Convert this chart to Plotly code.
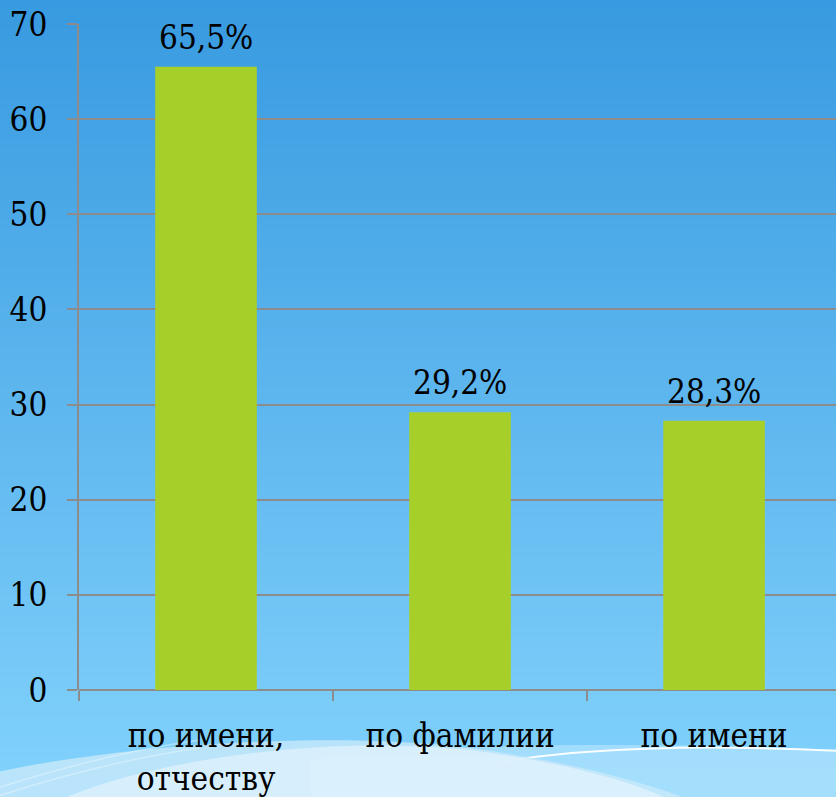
import plotly.graph_objects as go

categories = ["по имени,<br>отчеству", "по фамилии", "по имени"]
values = [65.5, 29.2, 28.3]
value_labels = ["65,5%", "29,2%", "28,3%"]
y_ticks = [0, 10, 20, 30, 40, 50, 60, 70]

W, H = 836, 797
L, R, T, B = 79, 0, 24, 107
FONT = "DejaVu Serif Condensed, DejaVu Serif, serif"
FSIZE = 33
GRID = "#8c8c8c"


def px_to_paper(x, y):
    return (x - L) / (W - L - R), (H - B - y) / (H - T - B)


def path(points):
    out = []
    for cmd, pts in points:
        coords = " ".join("%.4f,%.4f" % px_to_paper(x, y) for x, y in pts)
        out.append(cmd + " " + coords if pts else cmd)
    return " ".join(out)


fig = go.Figure()

fig.add_trace(go.Bar(
    x=categories,
    y=values,
    width=0.4,
    marker_color="#a7cf2a",
    marker_line_width=0,
    hoverinfo="skip",
))

for cat, val, lab in zip(categories, values, value_labels):
    fig.add_annotation(
        x=cat, y=val, text=lab, showarrow=False,
        yanchor="bottom", yshift=8,
        font={"family": FONT, "size": FSIZE, "color": "black"},
    )

# Background gradient stripes
shapes = []
top = (56, 154, 224)
bot = (130, 210, 252)
n = 80
for i in range(n):
    f = i / (n - 1)
    c = tuple(int(round(top[k] + (bot[k] - top[k]) * f)) for k in range(3))
    y0 = H * i / n - 1
    y1 = H * (i + 1) / n + 1
    x0p, y0p = px_to_paper(-2, y0)
    x1p, y1p = px_to_paper(W + 2, y1)
    shapes.append(dict(
        type="rect", xref="paper", yref="paper", layer="below",
        x0=x0p, x1=x1p, y0=y1p, y1=y0p,
        fillcolor="rgb(%d,%d,%d)" % c, line_width=0,
    ))

# Decorative swooshes at the bottom
shapes.append(dict(
    type="path", xref="paper", yref="paper", layer="below",
    path=path([("M", [(310, 760)]), ("C", [(450, 742), (650, 742), (840, 750)]),
               ("L", [(840, 800)]), ("L", [(310, 800)]), ("Z", [])]),
    fillcolor="rgba(175,225,253,0.75)", line_width=0,
))
shapes.append(dict(
    type="path", xref="paper", yref="paper", layer="below",
    path=path([("M", [(500, 762)]), ("C", [(580, 748), (700, 744), (840, 751)])]),
    line={"color": "rgba(255,255,255,0.95)", "width": 2},
))
shapes.append(dict(
    type="path", xref="paper", yref="paper", layer="below",
    path=path([("M", [(-2, 772)]), ("C", [(120, 745), (330, 730), (470, 748)]),
               ("C", [(560, 760), (640, 780), (690, 800)]),
               ("L", [(-2, 800)]), ("Z", [])]),
    fillcolor="rgba(200,232,250,0.8)", line_width=0,
))
shapes.append(dict(
    type="path", xref="paper", yref="paper", layer="below",
    path=path([("M", [(60, 800)]), ("C", [(150, 760), (320, 735), (470, 750)]),
               ("C", [(560, 762), (630, 780), (670, 800)]), ("Z", [])]),
    fillcolor="rgba(228,243,252,0.7)", line_width=0,
))
for yy in (788, 780):
    shapes.append(dict(
        type="path", xref="paper", yref="paper", layer="below",
        path=path([("M", [(-2, yy + 8)]), ("C", [(60, yy - 12), (130, yy - 30), (200, yy - 40)])]),
        line={"color": "rgba(235,248,255,0.45)", "width": 1.5},
    ))

fig.update_layout(
    width=W, height=H,
    margin={"l": L, "r": R, "t": T, "b": B, "autoexpand": False},
    paper_bgcolor="#3a9be0",
    plot_bgcolor="rgba(0,0,0,0)",
    showlegend=False,
    shapes=shapes,
    font={"family": FONT, "size": FSIZE, "color": "black"},
    bargap=0.6,
)

fig.update_xaxes(
    range=[-0.5, 2.48],
    automargin=False,
    showgrid=False,
    showline=False,
    ticks="outside", tickson="boundaries",
    ticklen=10, tickwidth=2, tickcolor=GRID,
    ticklabelstandoff=23,
    tickfont={"family": FONT, "size": FSIZE, "color": "black"},
)

fig.update_yaxes(
    range=[0, 70],
    automargin=False,
    tickvals=y_ticks,
    showgrid=True, gridcolor=GRID, gridwidth=2,
    zeroline=True, zerolinecolor=GRID, zerolinewidth=2,
    showline=True, linecolor=GRID, linewidth=2,
    ticks="outside", ticklen=10, tickwidth=2, tickcolor=GRID,
    ticklabelstandoff=13,
    tickfont={"family": FONT, "size": FSIZE, "color": "black"},
)

fig.write_html(
    "out.html",
    config={"displayModeBar": False},
    post_script="document.body.style.margin='0';",
)
